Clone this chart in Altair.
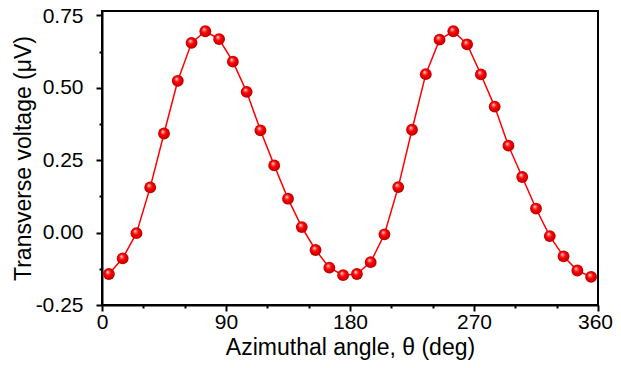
import altair as alt
import pandas as pd

angles = [5, 15, 25, 35, 45, 55, 65, 75, 85, 95, 105, 115, 125, 135, 145, 155, 165, 175,
          185, 195, 205, 215, 225, 235, 245, 255, 265, 275, 285, 295, 305, 315, 325, 335, 345, 355]
voltage = [-0.143, -0.089, -0.002, 0.156, 0.342, 0.524, 0.655, 0.695, 0.668, 0.590, 0.486, 0.353,
           0.232, 0.117, 0.019, -0.060, -0.121, -0.147, -0.143, -0.102, -0.006, 0.157, 0.355, 0.547,
           0.666, 0.695, 0.650, 0.546, 0.435, 0.300, 0.192, 0.083, -0.012, -0.082, -0.131, -0.153]

x_ticks = [0, 30, 60, 90, 120, 150, 180, 210, 240, 270, 300, 330, 360]
y_ticks = [-0.25, -0.125, 0.0, 0.125, 0.25, 0.375, 0.5, 0.625, 0.75]

df = pd.DataFrame({"angle": angles, "v": voltage})

FONT = "Liberation Sans"

x_enc = alt.X("angle:Q",
              scale=alt.Scale(domain=[0, 360], nice=False, zero=False),
              axis=alt.Axis(values=x_ticks, title="Azimuthal angle, θ (deg)",
                            labelExpr="datum.value % 90 === 0 ? datum.label : ''",
                            tickSize={"condition": {"test": "datum.value % 90 !== 0", "value": 3}, "value": 6},
                            labelOffset={"condition": {"test": "datum.value === 360", "value": -3}, "value": 0},
                            labelFlush=False, labelPadding=0,
                            titleBaseline="alphabetic", titleY=49))
y_enc = alt.Y("v:Q",
              scale=alt.Scale(domain=[-0.25, 0.765], nice=False, zero=False),
              axis=alt.Axis(values=y_ticks, title="Transverse voltage (μV)",
                            labelExpr="abs(datum.value*4 - round(datum.value*4)) > 0.01 ? '' : (datum.value < 0 ? '-' + format(-datum.value, '.2f') : format(datum.value, '.2f'))",
                            tickSize={"condition": {"test": "abs(datum.value*4 - round(datum.value*4)) > 0.01", "value": 3}, "value": 6},
                            labelOffset={"condition": {"test": "datum.value === 0.75", "value": 1}, "value": 0},
                            labelFlush=False, labelPadding=13,
                            titleX=-67, titleY=147, titleBaseline="bottom"))

base = alt.Chart(df)

line = base.mark_line(color="#ff0000", strokeWidth=1.5).encode(x=x_enc, y=y_enc)

grad = alt.RadialGradient(gradient="radial", x1=0.38, y1=0.32, r1=0.0, x2=0.5, y2=0.5, r2=0.55,
                          stops=[alt.GradientStop(offset=0.0, color="#ffffff"),
                                 alt.GradientStop(offset=0.22, color="#ff6060"),
                                 alt.GradientStop(offset=0.45, color="#ff0000"),
                                 alt.GradientStop(offset=1.0, color="#b00000")])

pts = base.mark_point(filled=True, fill=grad, size=140, opacity=1, strokeWidth=0).encode(x=x_enc, y=y_enc)

chart = alt.layer(line, pts).properties(
    width=496, height=294,
    autosize=alt.AutoSizeParams(type="none"),
    padding={"left": 94, "top": 3, "right": 15, "bottom": 55},
).configure_view(stroke="black", strokeWidth=2).configure_axis(
    labelFont=FONT, titleFont=FONT, labelFontSize=21, titleFontSize=23,
    labelColor="black", titleColor="black", titleFontWeight="normal",
    tickColor="black", tickWidth=2, domainColor="black", domainWidth=2, grid=False,
)

chart.save("out.html", embed_options={"renderer": "svg", "actions": False})
